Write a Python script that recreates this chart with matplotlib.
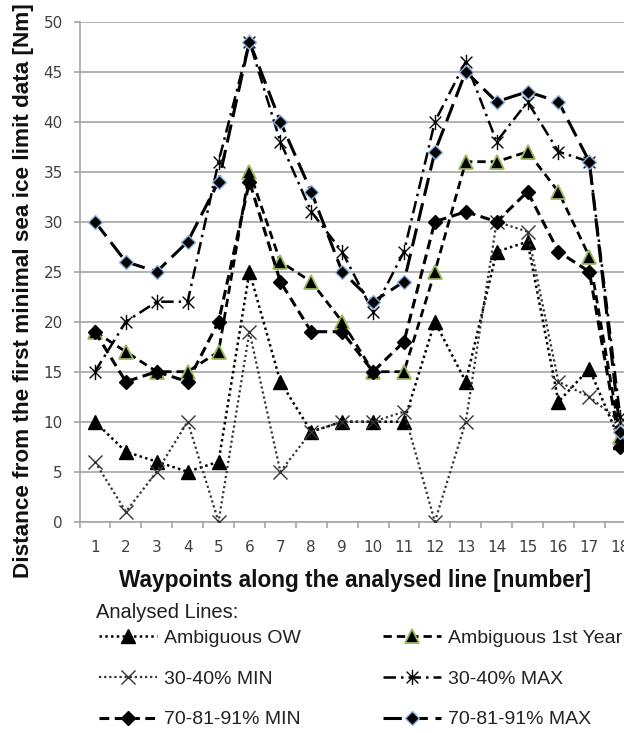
import matplotlib
matplotlib.use("Agg")
import matplotlib.pyplot as plt
from matplotlib.path import Path
from matplotlib.ticker import FixedLocator

# ---- data ----
waypoints = list(range(1, 19))
ambiguous_ow = [10, 7, 6, 5, 6, 25, 14, 9, 10, 10, 10, 20, 14, 27, 28, 12, 15.3, 8]
ambiguous_1st = [19, 17, 15, 15, 17, 35, 26, 24, 20, 15, 15, 25, 36, 36, 37, 33, 26.5, 8.5]
min_30_40 = [6, 1, 5, 10, 0, 19, 5, 9, 10, 10, 11, 0, 10, 30, 29, 14, 12.5, 10]
max_30_40 = [15, 20, 22, 22, 36, 48, 38, 31, 27, 21, 27, 40, 46, 38, 42, 37, 36, 10.5]
min_70_91 = [19, 14, 15, 14, 20, 34, 24, 19, 19, 15, 18, 30, 31, 30, 33, 27, 25, 7.5]
max_70_91 = [30, 26, 25, 28, 34, 48, 40, 33, 25, 22, 24, 37, 45, 42, 43, 42, 36, 9]
y_ticks = list(range(0, 51, 5))

labels = ["Ambiguous OW", "Ambiguous 1st Year", "30-40% MIN",
          "30-40% MAX", "70-81-91% MIN", "70-81-91% MAX"]

# star marker (x with vertical bar), Excel style
star = Path([(-1, -1), (1, 1), (-1, 1), (1, -1), (0, -1.3), (0, 1.3)],
            [Path.MOVETO, Path.LINETO, Path.MOVETO, Path.LINETO, Path.MOVETO, Path.LINETO])

fig = plt.figure(figsize=(6.24, 7.33), dpi=100)
ax = fig.add_axes([79.5 / 624, 1 - 521.7 / 733, 556.2 / 624, 500 / 733])

l_ow, = ax.plot(waypoints, ambiguous_ow, color="black", lw=1.8, dashes=(1, 1.3),
                marker="^", ms=10, mfc="black", mec="black", label=labels[0], zorder=3)
l_1y, = ax.plot(waypoints, ambiguous_1st, color="black", lw=2.0, dashes=(3, 1.8),
                marker="^", ms=10, mfc="black", mec="#9bbb59", mew=1.3, label=labels[1], zorder=3)
l_min30, = ax.plot(waypoints, min_30_40, color="#333333", lw=1.6, dashes=(1, 1.3),
                   marker="x", ms=10, mew=1.0, mec="#333333", label=labels[2], zorder=3)
l_max30, = ax.plot(waypoints, max_30_40, color="black", lw=1.8, dashes=(5, 2, 1, 2),
                   marker=star, ms=11, mew=1.0, mec="black", label=labels[3], zorder=3)
l_min70, = ax.plot(waypoints, min_70_91, color="black", lw=2.2, dashes=(3.2, 1.8),
                   marker="D", ms=7, mfc="black", mec="black", label=labels[4], zorder=3)
l_max70, = ax.plot(waypoints, max_70_91, color="black", lw=2.2, dashes=(6, 2.5),
                   marker="D", ms=7, mfc="black", mec="#8eb4e3", mew=1.0, label=labels[5], zorder=3)

ax.set_xlim(0.5, 18.5)
ax.set_ylim(0, 50)
ax.set_yticks(y_ticks)
ax.set_xticks(waypoints)
ax.xaxis.set_minor_locator(FixedLocator([i + 0.5 for i in range(0, 19)]))

ax.grid(axis="y", color="#a6a6a6", lw=1.2, zorder=0)
ax.set_axisbelow(True)
for s in ["top", "right"]:
    ax.spines[s].set_visible(False)
for s in ["left", "bottom"]:
    ax.spines[s].set_color("#a6a6a6")
    ax.spines[s].set_linewidth(1.2)

ax.tick_params(axis="y", which="major", direction="out", length=4, width=1.2,
               color="#a6a6a6", pad=8, labelsize=11, labelcolor="#404040")
ax.tick_params(axis="x", which="major", length=0, pad=13, labelsize=11, labelcolor="#404040")
ax.tick_params(axis="x", which="minor", direction="out", length=4, width=1.2, color="#a6a6a6")
for t in ax.get_xticklabels() + ax.get_yticklabels():
    t.set_fontfamily("DejaVu Sans")

fig.text(24 / 624, 1 - 291 / 733, "Distance from the first minimal sea ice limit data [Nm]",
         rotation=90, ha="center", va="center", fontsize=16.2, fontweight="bold",
         family="Liberation Sans", color="#111111")
fig.text(355 / 624, 1 - 580 / 733, "Waypoints along the analysed line [number]",
         ha="center", va="center", fontsize=16.3, fontweight="bold",
         family="Liberation Sans", color="#111111")

fig.text(96 / 624, 1 - 612 / 733, "Analysed Lines:", ha="left", va="center",
         fontsize=14.5, family="Liberation Sans", color="#1f1f1f")

handles = [l_ow, l_min30, l_min70, l_1y, l_max30, l_max70]
leg = fig.legend(handles=handles, labels=[h.get_label() for h in handles],
                 loc="upper left", bbox_to_anchor=(99 / 624, 1 - 629 / 733),
                 ncol=2, frameon=False, borderpad=0, borderaxespad=0,
                 handlelength=3.0, handletextpad=0.35, columnspacing=4.2,
                 labelspacing=1.2,
                 prop={"family": "Liberation Sans", "size": 14})
for t in leg.get_texts():
    t.set_color("#222222")

fig.savefig("out.png", dpi=100)
